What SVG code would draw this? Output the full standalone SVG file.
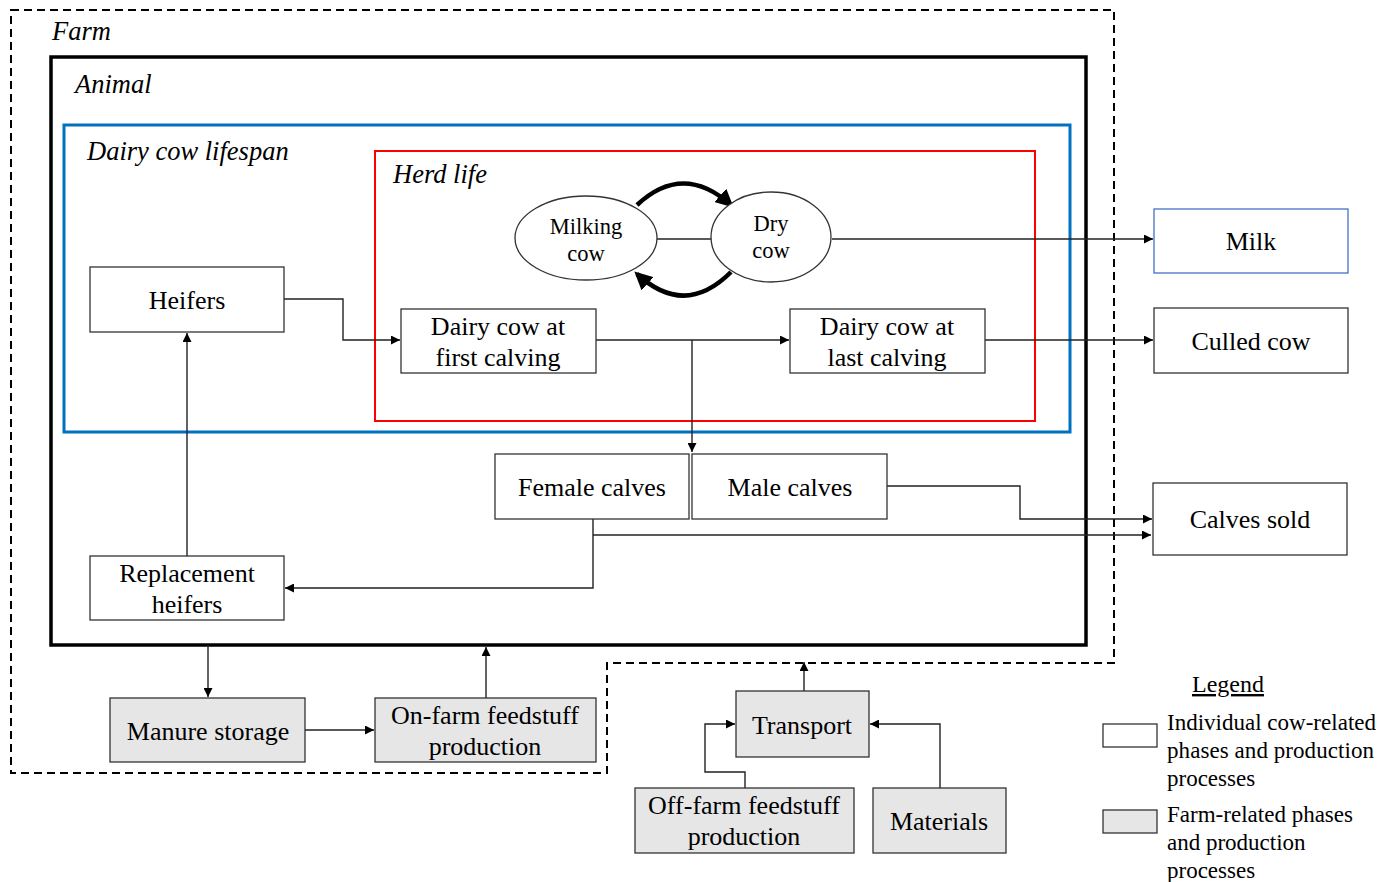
<svg xmlns="http://www.w3.org/2000/svg" width="1390" height="882" viewBox="0 0 1390 882">
<defs>
<marker id="ah" viewBox="0 0 10 10" refX="10" refY="5" markerWidth="9" markerHeight="9" markerUnits="userSpaceOnUse" orient="auto"><path d="M0,0 L10,5 L0,10 z" fill="#000"/></marker>
<marker id="ahb" viewBox="0 0 10 10" refX="8" refY="5" markerWidth="4" markerHeight="4" orient="auto"><path d="M0,0 L10,5 L0,10 z" fill="#000"/></marker>
</defs>
<style>
text{font-family:"Liberation Serif","Times New Roman",serif;fill:#000}
.t{font-size:26px;text-anchor:middle}
.e{font-size:22.5px;text-anchor:middle}
.it{font-size:26.5px;font-style:italic}
.lg{font-size:23px}
.box{fill:#fff;stroke:#333;stroke-width:1.3}
.gbox{fill:#e6e6e6;stroke:#333;stroke-width:1.3}
.c{fill:none;stroke:#222;stroke-width:1.4;marker-end:url(#ah)}
.cn{fill:none;stroke:#222;stroke-width:1.4}
</style>
<rect width="1390" height="882" fill="#fff"/>
<g id="farm">
<path d="M11,10 H1114 V663 H607 V773 H11 Z" fill="none" stroke="#000" stroke-width="2" stroke-dasharray="8,5"/>
<text class="it" x="52" y="40">Farm</text>
</g>
<g id="animal">
<rect x="51" y="57" width="1035" height="588" fill="none" stroke="#000" stroke-width="3.5"/>
<text class="it" x="75" y="93">Animal</text>
</g>
<g id="lifespan">
<rect x="64" y="125" width="1006" height="307" fill="none" stroke="#0070C0" stroke-width="3"/>
<text class="it" x="87" y="160">Dairy cow lifespan</text>
</g>
<g id="herdlife">
<rect x="375" y="151" width="660" height="270" fill="none" stroke="#f00" stroke-width="2"/>
<text class="it" x="393" y="183">Herd life</text>
</g>
<g id="connectors">
<line class="cn" x1="657" y1="239" x2="711" y2="239"/>
<path class="c" d="M832,239 H1153"/>
<path d="M637,205 Q683,162 731,205" fill="none" stroke="#000" stroke-width="4.5" marker-end="url(#ahb)"/>
<path d="M731,272 Q685,318 637,274" fill="none" stroke="#000" stroke-width="4.5" marker-end="url(#ahb)"/>
<path class="c" d="M284,299 H343 V340 H400"/>
<path class="c" d="M596,340 H789"/>
<path class="c" d="M692,340 V452"/>
<path class="c" d="M985,340 H1153"/>
<path class="c" d="M887,486 H1020 V519 H1152"/>
<path class="c" d="M593,519 V588 H285"/>
<path class="c" d="M593,535 H1151"/>
<path class="c" d="M187,556 V333"/>
<path class="c" d="M208,645 V697"/>
<path class="c" d="M305,730 H374"/>
<path class="c" d="M486,698 V647"/>
<path class="c" d="M804,691 V662"/>
<path class="c" d="M745,788 V772 H705 V724 H735"/>
<path class="c" d="M940,788 V724 H870"/>
</g>
<g id="milking-cow">
<ellipse cx="586" cy="238" rx="71" ry="42" fill="#fff" stroke="#333" stroke-width="1.3"/>
<text class="e" x="586" y="234">Milking</text>
<text class="e" x="586" y="261">cow</text>
</g>
<g id="dry-cow">
<ellipse cx="771" cy="237" rx="60" ry="45" fill="#fff" stroke="#333" stroke-width="1.3"/>
<text class="e" x="771" y="231">Dry</text>
<text class="e" x="771" y="258">cow</text>
</g>
<g id="heifers">
<rect class="box" x="90" y="267" width="194" height="65"/>
<text class="t" x="187" y="309">Heifers</text>
</g>
<g id="first-calving">
<rect class="box" x="401" y="309" width="195" height="64"/>
<text class="t" x="498" y="335">Dairy cow at</text>
<text class="t" x="498" y="366">first calving</text>
</g>
<g id="last-calving">
<rect class="box" x="790" y="309" width="195" height="64"/>
<text class="t" x="887" y="335">Dairy cow at</text>
<text class="t" x="887" y="366">last calving</text>
</g>
<g id="milk">
<rect x="1154" y="209" width="194" height="64" fill="#fff" stroke="#4472C4" stroke-width="1.3"/>
<text class="t" x="1251" y="250">Milk</text>
</g>
<g id="culled-cow">
<rect class="box" x="1154" y="308" width="194" height="65"/>
<text class="t" x="1251" y="350">Culled cow</text>
</g>
<g id="female-calves">
<rect class="box" x="495" y="454" width="194" height="65"/>
<text class="t" x="592" y="496">Female calves</text>
</g>
<g id="male-calves">
<rect class="box" x="692" y="454" width="195" height="65"/>
<text class="t" x="790" y="496">Male calves</text>
</g>
<g id="calves-sold">
<rect class="box" x="1153" y="483" width="194" height="72"/>
<text class="t" x="1250" y="528">Calves sold</text>
</g>
<g id="replacement-heifers">
<rect class="box" x="90" y="556" width="194" height="64"/>
<text class="t" x="187" y="582">Replacement</text>
<text class="t" x="187" y="613">heifers</text>
</g>
<g id="manure-storage">
<rect class="gbox" x="110" y="698" width="195" height="64"/>
<text class="t" x="208" y="740">Manure storage</text>
</g>
<g id="on-farm-feedstuff">
<rect class="gbox" x="375" y="698" width="221" height="64"/>
<text class="t" x="485" y="724">On-farm feedstuff</text>
<text class="t" x="485" y="755">production</text>
</g>
<g id="transport">
<rect class="gbox" x="736" y="691" width="133" height="66"/>
<text class="t" x="802" y="734">Transport</text>
</g>
<g id="off-farm-feedstuff">
<rect class="gbox" x="635" y="788" width="219" height="65"/>
<text class="t" x="744" y="814">Off-farm feedstuff</text>
<text class="t" x="744" y="845">production</text>
</g>
<g id="materials">
<rect class="gbox" x="873" y="788" width="133" height="65"/>
<text class="t" x="939" y="830">Materials</text>
</g>
<g id="legend">
<text x="1228" y="692" style="font-size:24px;text-anchor:middle;text-decoration:underline">Legend</text>
<rect class="box" x="1103" y="724" width="54" height="23"/>
<rect class="gbox" x="1103" y="810" width="54" height="23"/>
<text class="lg" x="1167" y="730" textLength="209" lengthAdjust="spacing">Individual cow-related</text>
<text class="lg" x="1167" y="758" textLength="207" lengthAdjust="spacing">phases and production</text>
<text class="lg" x="1167" y="786">processes</text>
<text class="lg" x="1167" y="822" textLength="186" lengthAdjust="spacing">Farm-related phases</text>
<text class="lg" x="1167" y="850">and production</text>
<text class="lg" x="1167" y="878">processes</text>
</g>
</svg>
